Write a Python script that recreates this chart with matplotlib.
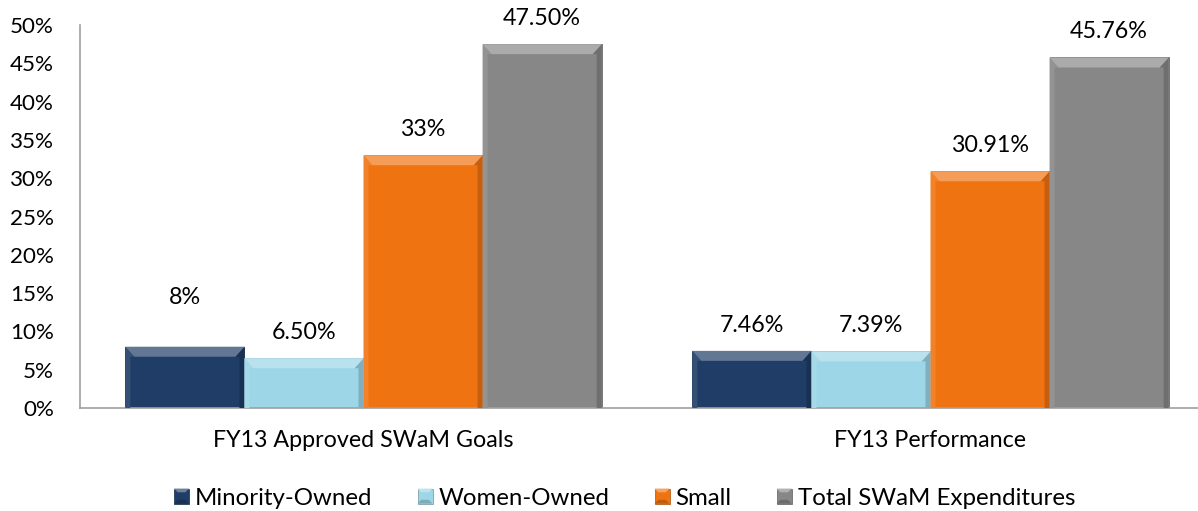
import matplotlib
matplotlib.use("Agg")
import matplotlib.pyplot as plt
from matplotlib.patches import Polygon, Rectangle
from matplotlib.legend_handler import HandlerBase
import matplotlib.colors as mcolors
import numpy as np

categories = ["FY13 Approved SWaM Goals", "FY13 Performance"]
series_names = ["Minority-Owned", "Women-Owned", "Small", "Total SWaM Expenditures"]
values = {
    "Minority-Owned": [8.0, 7.46],
    "Women-Owned": [6.5, 7.39],
    "Small": [33.0, 30.91],
    "Total SWaM Expenditures": [47.5, 45.76],
}
labels = {
    "Minority-Owned": ["8%", "7.46%"],
    "Women-Owned": ["6.50%", "7.39%"],
    "Small": ["33%", "30.91%"],
    "Total SWaM Expenditures": ["47.50%", "45.76%"],
}
colors = {
    "Minority-Owned": "#1F3D66",
    "Women-Owned": "#9DD6E6",
    "Small": "#F07311",
    "Total SWaM Expenditures": "#878787",
}
# extra label lift in pixels (the "8%" label sits higher in the original)
label_lift = {
    "Minority-Owned": [24, 0],
    "Women-Owned": [0, 0],
    "Small": [0, 0],
    "Total SWaM Expenditures": [0, 0],
}
yticks = [0, 5, 10, 15, 20, 25, 30, 35, 40, 45, 50]

FAM = ['Lato', 'DejaVu Sans']
plt.rcParams['font.family'] = FAM
W, H = 1198, 511
fig = plt.figure(figsize=(W / 100, H / 100), dpi=100)
renderer = fig.canvas.get_renderer()

def fit_size(text, target_px, base=20.0):
    t = fig.text(0, 0, text, fontsize=base)
    w = t.get_window_extent(renderer).width
    t.remove()
    return base * target_px / w

fs_tick = fit_size("50%", 44)
fs_data = fit_size("47.50%", 78)
fs_cat = fit_size("FY13 Approved SWaM Goals", 300)
fs_leg = fit_size("Minority-Owned", 177)

AX_L, AX_B, AX_T = 80, 408, 25
ax = fig.add_axes([AX_L / W, 1 - AX_B / H, 1134 / W, (AX_B - AX_T) / H])

x = np.arange(len(categories))
bw = 0.21
ax.set_xlim(-0.5, 1.5)
ax.set_ylim(0, 50)

def shade(c, f):
    r, g, b = mcolors.to_rgb(c)
    if f > 0:
        return (r + (1 - r) * f, g + (1 - g) * f, b + (1 - b) * f)
    return (r * (1 + f), g * (1 + f), b * (1 + f))

px_x = 1134 / 2.0
px_y = (AX_B - AX_T) / 50.0
dx = 9.0 / px_x
dy = 10.0 / px_y
sx = 5.0 / px_x

for i, name in enumerate(series_names):
    offs = (i - 1.5) * bw
    c = colors[name]
    bars = ax.bar(x + offs, values[name], width=bw, color=c,
                  edgecolor=shade(c, -0.2), linewidth=0.6, zorder=2)
    for rect, lab, lift in zip(bars, labels[name], label_lift[name]):
        x0 = rect.get_x(); x1 = x0 + rect.get_width(); h = rect.get_height()
        ax.add_patch(Polygon([(x0, 0), (x0, h), (x0 + dx, h - dy), (x0 + sx, h - dy), (x0 + sx, 0)],
                             closed=True, facecolor=shade(c, 0.10), edgecolor='none', zorder=3))
        ax.add_patch(Polygon([(x1, 0), (x1, h), (x1 - dx, h - dy), (x1 - sx, h - dy), (x1 - sx, 0)],
                             closed=True, facecolor=shade(c, -0.18), edgecolor='none', zorder=3))
        ax.add_patch(Polygon([(x0, h), (x1, h), (x1 - dx, h - dy), (x0 + dx, h - dy)],
                             closed=True, facecolor=shade(c, 0.30), edgecolor='none', zorder=3))
        ax.annotate(lab, (x0 + rect.get_width() / 2, h), xytext=(0, (19 + lift) * 0.72),
                    textcoords='offset points', ha='center', va='baseline',
                    fontsize=fs_data, color='#000000', zorder=4)

ax.set_xticks(x)
ax.set_xticklabels(categories, fontsize=fs_cat)
ax.set_yticks(yticks)
ax.set_yticklabels([f"{t}%" for t in yticks], fontsize=fs_tick)
ax.tick_params(length=0)
ax.tick_params(axis='y', pad=26 * 0.72)
ax.tick_params(axis='x', pad=22 * 0.72)
for s in ['top', 'right']:
    ax.spines[s].set_visible(False)
for s in ['left', 'bottom']:
    ax.spines[s].set_color('#A0A0A0')
    ax.spines[s].set_linewidth(1.2)


class BevelHandler(HandlerBase):
    def create_artists(self, legend, orig_handle, xdescent, ydescent, width, height, fontsize, trans):
        c = orig_handle.get_facecolor()
        s = min(width, height)
        x0 = -xdescent
        y0 = -ydescent + (height - s) / 2
        b = s * 0.25
        arts = [Rectangle((x0, y0), s, s, facecolor=c, edgecolor=shade(c, -0.3), lw=0.5, transform=trans)]
        arts.append(Polygon([(x0, y0 + s), (x0 + s, y0 + s), (x0 + s - b, y0 + s - b), (x0 + b, y0 + s - b)],
                            closed=True, facecolor=shade(c, 0.35), edgecolor='none', transform=trans))
        arts.append(Polygon([(x0, y0), (x0 + s, y0), (x0 + s - b, y0 + b), (x0 + b, y0 + b)],
                            closed=True, facecolor=shade(c, -0.2), edgecolor='none', transform=trans))
        return arts

fs_leg_px = fs_leg / 0.72
handles = [Rectangle((0, 0), 1, 1, facecolor=colors[n]) for n in series_names]
leg = fig.legend(handles, series_names, loc='center left', bbox_to_anchor=(174 / W, 1 - 498 / H),
                 ncol=4, frameon=False, fontsize=fs_leg, handler_map={Rectangle: BevelHandler()},
                 handlelength=15 / fs_leg_px, handleheight=15 / fs_leg_px,
                 handletextpad=6 / fs_leg_px, columnspacing=45 / fs_leg_px,
                 borderpad=0, borderaxespad=0)

fig.savefig("out.png", dpi=100)
